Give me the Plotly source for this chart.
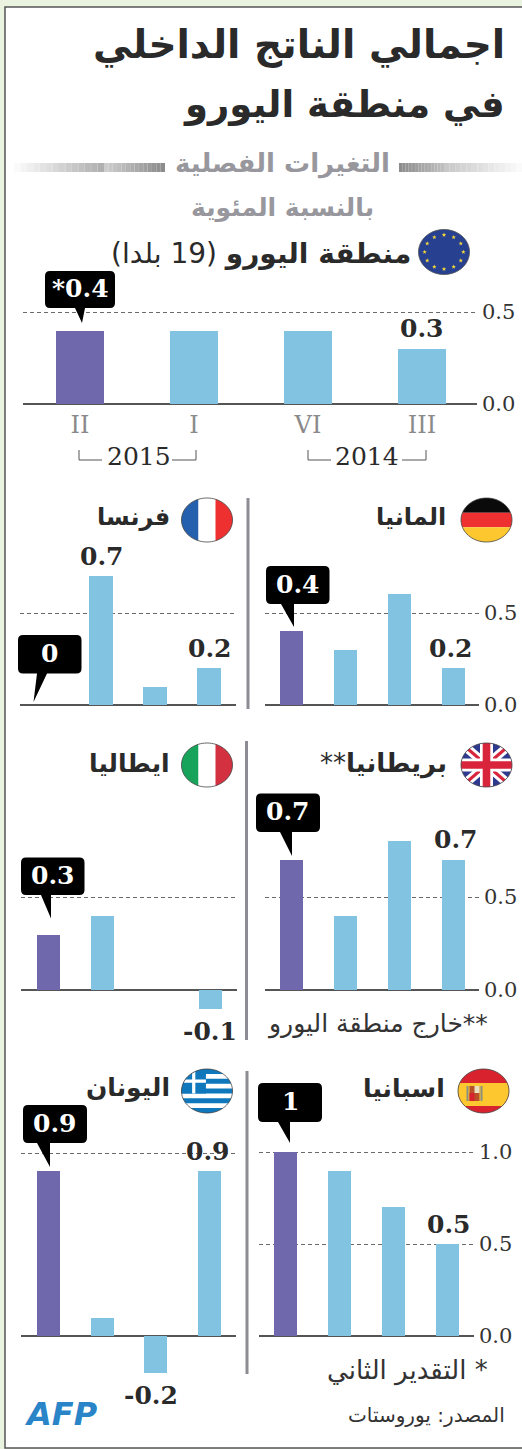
import math
import plotly.graph_objects as go

W, H = 522, 1449
QUARTERS = ["II", "I", "VI", "III"]
EURO = [0.4, 0.4, 0.4, 0.3]
GERMANY = [0.4, 0.3, 0.6, 0.2]
FRANCE = [0.0, 0.7, 0.1, 0.2]
BRITAIN = [0.7, 0.4, 0.8, 0.7]
ITALY = [0.3, 0.4, 0.0, -0.1]
SPAIN = [1.0, 0.9, 0.7, 0.5]
GREECE = [0.9, 0.1, -0.2, 0.9]

PURPLE, BLUE = "#6f68ad", "#82c3e1"
SERIF, SANS = "DejaVu Serif", "DejaVu Sans"
DARK = "#2a2a2a"


def px(x):
    return x / W


def py(y):
    return 1 - y / H


panels = [
    dict(v=EURO, ax=(23, 477), c0=80, step=114, base=404, unit=184, vmin=0, vmax=0.55, ticks=[0, .5], lab=True, bw=.42, val={3: 0}),
    dict(v=GERMANY, ax=(265, 479), c0=291.5, step=54, base=705, unit=184, vmin=0, vmax=0.7, ticks=[0, .5], lab=True, bw=.43, val={3: -3}),
    dict(v=FRANCE, ax=(20, 236), c0=47, step=54, base=705, unit=184, vmin=0, vmax=0.75, ticks=[0, .5], lab=False, bw=.43, val={1: 1, 3: 1}),
    dict(v=BRITAIN, ax=(265, 479), c0=291.5, step=54, base=990, unit=186, vmin=0, vmax=0.85, ticks=[0, .5], lab=True, bw=.43, val={3: 2}),
    dict(v=ITALY, ax=(21, 237), c0=48.5, step=54, base=990, unit=186, vmin=-0.15, vmax=0.55, ticks=[0, .5], lab=False, bw=.43, val={3: -1}),
    dict(v=SPAIN, ax=(259, 474), c0=285.5, step=54, base=1336, unit=184, vmin=0, vmax=1.05, ticks=[0, .5, 1], lab=True, bw=.43, val={3: 1}),
    dict(v=GREECE, ax=(21, 236), c0=48.5, step=53.7, base=1336, unit=183, vmin=-0.25, vmax=1.05, ticks=[0, 1], lab=False, bw=.43, val={2: -5, 3: -2}),
]

fig = go.Figure()
layout = {}
annotations = []
shapes = []


def text(x, y, s, size, color=DARK, anchor="right", family=SANS):
    annotations.append(dict(xref="paper", yref="paper", x=px(x), y=py(y), text=s, showarrow=False,
                            xanchor=anchor, yanchor="middle", align=anchor,
                            font=dict(family=family, size=size, color=color), borderpad=0, borderwidth=0))


for i, p in enumerate(panels, start=1):
    xn = "x" if i == 1 else f"x{i}"
    yn = "y" if i == 1 else f"y{i}"
    colors = [PURPLE] + [BLUE] * 3
    fig.add_trace(go.Bar(x=QUARTERS, y=p["v"], xaxis=xn, yaxis=yn, width=p["bw"],
                         marker=dict(color=colors, line=dict(width=0)), showlegend=False, hoverinfo="skip"))
    r0 = (p["ax"][0] - p["c0"]) / p["step"]
    r1 = (p["ax"][1] - p["c0"]) / p["step"]
    top = p["base"] - p["vmax"] * p["unit"]
    bot = p["base"] - p["vmin"] * p["unit"]
    layout["xaxis" if i == 1 else f"xaxis{i}"] = dict(
        domain=[px(p["ax"][0]), px(p["ax"][1])], range=[r0, r1], type="category", automargin=False,
        categoryorder="array", categoryarray=QUARTERS, anchor=yn, showgrid=False, showline=False,
        showticklabels=i == 1, ticks="", ticklabelstandoff=4,
        tickfont=dict(family=SERIF, size=24, color="#8a8a8a"), fixedrange=True)
    layout["yaxis" if i == 1 else f"yaxis{i}"] = dict(
        domain=[py(bot), py(top)], range=[p["vmin"], p["vmax"]], anchor=xn, side="right", automargin=False,
        tickmode="array", tickvals=p["ticks"], ticktext=[f"{t:.1f}" for t in p["ticks"]],
        showticklabels=p["lab"], tickfont=dict(family=SERIF, size=21, color="#333333"), ticks="",
        ticklabelstandoff=4, showgrid=True, gridcolor="#6a6a6a", griddash="4px,3px", gridwidth=1,
        zeroline=True, zerolinecolor="#555555", zerolinewidth=1.5, showline=False, fixedrange=True)
    for idx, shift in p["val"].items():
        val = p["v"][idx]
        annotations.append(dict(xref=xn, yref=yn, x=QUARTERS[idx], y=val,
                                text=f"<b>{val:g}</b>", showarrow=False, yanchor="middle",
                                yshift=(20 if val > 0 else -23), xshift=shift,
                                font=dict(family=SERIF, size=25, color=DARK)))


shapes.append(dict(type="rect", xref="paper", yref="paper", x0=px(5), x1=px(540), y0=py(7), y1=py(1448),
                   fillcolor="white", line=dict(color="#555555", width=1.5), layer="below"))


def grad(x0, x1, c0, c1, n=14):
    for k in range(n):
        a = x0 + (x1 - x0) * k / n
        b = x0 + (x1 - x0) * (k + 1) / n
        g = round(c0 + (c1 - c0) * k / (n - 1))
        shapes.append(dict(type="rect", xref="paper", yref="paper", x0=px(a), x1=px(b), y0=py(172), y1=py(163),
                           fillcolor=f"rgb({g},{g},{g})", line=dict(width=0), layer="below"))


grad(14, 104, 250, 176)
grad(104, 165, 205, 140)
grad(399, 444, 140, 190)
grad(444, 522, 200, 250)

for x, a, b in [(248, 498, 709), (246.5, 741, 1040), (247, 1071, 1374)]:
    shapes.append(dict(type="rect", xref="paper", yref="paper", x0=px(x - 1.5), x1=px(x + 1.5), y0=py(a), y1=py(b),
                       fillcolor="#8c8c92", line=dict(width=0), layer="below"))


def ell(cx, cy, rx, ry, n=72):
    return [(cx + rx * math.cos(2 * math.pi * k / n), cy + ry * math.sin(2 * math.pi * k / n)) for k in range(n)]


def clip(poly, conv):
    out = poly
    for j in range(len(conv)):
        a, b = conv[j], conv[(j + 1) % len(conv)]
        inp, out = out, []
        inside = lambda q: (b[0] - a[0]) * (q[1] - a[1]) - (b[1] - a[1]) * (q[0] - a[0]) >= 0
        for k in range(len(inp)):
            s, e = inp[k - 1], inp[k]
            si, ei = inside(s), inside(e)
            if si != ei:
                t = ((b[0] - a[0]) * (a[1] - s[1]) - (b[1] - a[1]) * (a[0] - s[0])) / (
                    (b[0] - a[0]) * (e[1] - s[1]) - (b[1] - a[1]) * (e[0] - s[0]))
                out.append((s[0] + t * (e[0] - s[0]), s[1] + t * (e[1] - s[1])))
            if ei:
                out.append(e)
    return out


def polyshape(pts, color, line=None):
    if not pts:
        return
    d = "M" + "L".join(f"{px(x):.5f},{py(y):.5f}" for x, y in pts) + "Z"
    shapes.append(dict(type="path", xref="paper", yref="paper", path=d, fillcolor=color,
                       line=dict(width=0) if line is None else line, layer="above"))


def rectp(x0, y0, x1, y1):
    return [(x0, y0), (x1, y0), (x1, y1), (x0, y1)]


def band(e, x0, y0, x1, y1, color):
    polyshape(clip(e, rectp(x0, y0, x1, y1)), color)


def diag(cx, cy, dx, dy, w):
    L = math.hypot(dx, dy)
    nx, ny = -dy / L * w / 2, dx / L * w / 2
    return [(cx - dx - nx, cy - dy - ny), (cx + dx - nx, cy + dy - ny), (cx + dx + nx, cy + dy + ny), (cx - dx + nx, cy - dy + ny)]


def outline(cx, cy, rx, ry):
    polyshape(ell(cx, cy, rx, ry), "rgba(0,0,0,0)", dict(color="#444444", width=0.8))


def flag_de(cx, cy, rx=25.5, ry=22):
    e = ell(cx, cy, rx, ry)
    h = 2 * ry / 3
    for k, c in enumerate(["#0a0a0a", "#ee3030", "#fdc82f"]):
        band(e, cx - rx - 1, cy - ry + k * h, cx + rx + 1, cy - ry + (k + 1) * h, c)
    outline(cx, cy, rx, ry)


def flag_v(cx, cy, colors, rx=25.5, ry=22):
    e = ell(cx, cy, rx, ry)
    w = 2 * rx / 3
    for k, c in enumerate(colors):
        band(e, cx - rx + k * w, cy - ry - 1, cx - rx + (k + 1) * w, cy + ry + 1, c)
    outline(cx, cy, rx, ry)


def flag_uk(cx, cy, rx=25.5, ry=22):
    e = ell(cx, cy, rx, ry)
    polyshape(e, "#2f3a8f")
    for s in (1, -1):
        polyshape(clip(e, diag(cx, cy, rx * 1.2, s * ry * 1.2, 9)), "white")
    for s in (1, -1):
        polyshape(clip(e, diag(cx, cy, rx * 1.2, s * ry * 1.2, 3.2)), "#d9253c")
    band(e, cx - 6.5, cy - ry - 1, cx + 6.5, cy + ry + 1, "white")
    band(e, cx - rx - 1, cy - 6.5, cx + rx + 1, cy + 6.5, "white")
    band(e, cx - 3.8, cy - ry - 1, cx + 3.8, cy + ry + 1, "#d9253c")
    band(e, cx - rx - 1, cy - 3.8, cx + rx + 1, cy + 3.8, "#d9253c")
    outline(cx, cy, rx, ry)


def flag_es(cx, cy, rx=25.5, ry=22):
    e = ell(cx, cy, rx, ry)
    polyshape(e, "#d8232f")
    band(e, cx - rx - 1, cy - 8, cx + rx + 1, cy + 15, "#fdc82f")
    polyshape(rectp(cx - 17, cy - 5, cx - 15, cy + 10), "#8a8f80")
    polyshape(rectp(cx - 3, cy - 5, cx - 1, cy + 10), "#8a8f80")
    polyshape(rectp(cx - 14, cy - 5, cx - 4, cy + 10), "#b8502a")
    polyshape(rectp(cx - 9, cy - 5, cx - 4, cy + 2), "#e8e0c0")
    polyshape(rectp(cx - 14, cy + 2, cx - 9, cy + 10), "#d8232f")
    outline(cx, cy, rx, ry)


def flag_gr(cx, cy, rx=25.5, ry=22):
    e = ell(cx, cy, rx, ry)
    polyshape(e, "white")
    h = 2 * ry / 9
    for k in range(0, 9, 2):
        band(e, cx - rx - 1, cy - ry + k * h, cx + rx + 1, cy - ry + (k + 1) * h, "#0f78bd")
    cw = 5 * h
    band(e, cx - rx - 1, cy - ry - 1, cx - rx + cw, cy - ry + cw, "#0f78bd")
    mx, my = cx - rx + cw / 2, cy - ry + cw / 2
    band(e, mx - 1.6, cy - ry - 1, mx + 1.6, cy - ry + cw, "white")
    band(e, cx - rx - 1, my - 1.6, cx - rx + cw, my + 1.6, "white")
    outline(cx, cy, rx, ry)


def flag_eu(cx, cy, rx=25.5, ry=22.5):
    polyshape(ell(cx, cy, rx, ry), "#27408f", dict(color="#555555", width=0.8))
    for k in range(12):
        a = 2 * math.pi * k / 12
        sx, sy = cx + rx * .76 * math.cos(a), cy + ry * .76 * math.sin(a)
        pts = []
        for m in range(10):
            r = 2.3 if m % 2 == 0 else 1.0
            b = -math.pi / 2 + m * math.pi / 5
            pts.append((sx + r * math.cos(b), sy + r * math.sin(b)))
        polyshape(pts, "#f2d63a")


flag_eu(444, 252)
flag_de(486.5, 520)
flag_v(207, 520, ["#2560ae", "white", "#ee3030"])
flag_uk(486.5, 765)
flag_v(207, 765, ["#17a35a", "white", "#d33040"])
flag_es(483.5, 1091)
flag_gr(207, 1091)


def callout(x0, y0, x1, y1, tip, s):
    r = 5
    b0, b1, t = tip
    d = (f"M{px(x0 + r)},{py(y0)}L{px(x1 - r)},{py(y0)}Q{px(x1)},{py(y0)} {px(x1)},{py(y0 + r)}"
         f"L{px(x1)},{py(y1 - r)}Q{px(x1)},{py(y1)} {px(x1 - r)},{py(y1)}"
         f"L{px(b1)},{py(y1)}L{px(t[0])},{py(t[1])}L{px(b0)},{py(y1)}"
         f"L{px(x0 + r)},{py(y1)}Q{px(x0)},{py(y1)} {px(x0)},{py(y1 - r)}"
         f"L{px(x0)},{py(y0 + r)}Q{px(x0)},{py(y0)} {px(x0 + r)},{py(y0)}Z")
    shapes.append(dict(type="path", xref="paper", yref="paper", path=d, fillcolor="black", line=dict(width=0), layer="above"))
    text((x0 + x1) / 2, (y0 + y1) / 2 - 1, f"<b>{s}</b>", 25, "white", "center", SERIF)


callout(45, 271, 115, 308, (75, 85, (82, 323)), "*0.4")
callout(266, 566, 329.5, 604, (281, 294, (294, 627)), "0.4")
callout(18, 635, 81.5, 673.5, (37, 47, (33.5, 702)), "0")
callout(256, 793.6, 320, 832, (280, 292, (292, 856)), "0.7")
callout(21, 857.5, 84.5, 895, (41, 51, (51, 918.6)), "0.3")
callout(258, 1083, 322, 1122, (278, 290, (290, 1143)), "1")
callout(23, 1105, 87, 1143, (37, 50, (50, 1167)), "0.9")

for a, b, y in [(79, 102, 460), (172, 196, 460), (308, 331, 460), (402, 426, 460)]:
    left = a in (79, 308)
    vx = a if left else b
    d = f"M{px(vx)},{py(450)}L{px(vx)},{py(y)}L{px(b if left else a)},{py(y)}"
    shapes.append(dict(type="path", xref="paper", yref="paper", path=d, line=dict(color="#555555", width=1), layer="above"))
text(139, 456, "2015", 25, DARK, "center", SERIF)
text(367, 456, "2014", 25, DARK, "center", SERIF)

text(505, 45, "<b>اجمالي الناتج الداخلي</b>", 39)
text(505, 105, "<b>في منطقة اليورو</b>", 37)
text(282, 163, "<b>التغيرات الفصلية</b>", 26, "#97979d", "center")
text(282, 208, "<b>بالنسبة المئوية</b>", 25, "#97979d", "center")
text(411, 253, "\u200f<b>منطقة اليورو</b> (19 بلدا)\u200f", 28)
text(446, 517, "<b>المانيا</b>", 24)
text(170, 517, "<b>فرنسا</b>", 24)
text(447, 763, "\u200f<b>بريطانيا</b>**\u200f", 26)
text(170, 763, "<b>ايطاليا</b>", 25)
text(445, 1088, "<b>اسبانيا</b>", 25)
text(170, 1088, "<b>اليونان</b>", 25)
text(488, 1024, "\u200f**خارج منطقة اليورو\u200f", 25, "#333333")
text(488, 1370, "\u200f* التقدير الثاني\u200f", 26, "#333333")
text(505, 1415, "المصدر: يوروستات", 20, "#333333")
text(24, 1414, "<b><i>AFP</i></b>", 32, "#2a84c8", "left")

layout.update(width=W, height=H, margin=dict(l=0, r=0, t=0, b=0), paper_bgcolor="#e9f3df", plot_bgcolor="rgba(0,0,0,0)",
              autosize=False, bargap=0, showlegend=False, shapes=shapes, annotations=annotations)
fig.update_layout(**layout)
fig.write_html("out.html", config=dict(displayModeBar=False, responsive=False),
               post_script="document.body.style.margin='0';document.documentElement.style.overflow='hidden';")
